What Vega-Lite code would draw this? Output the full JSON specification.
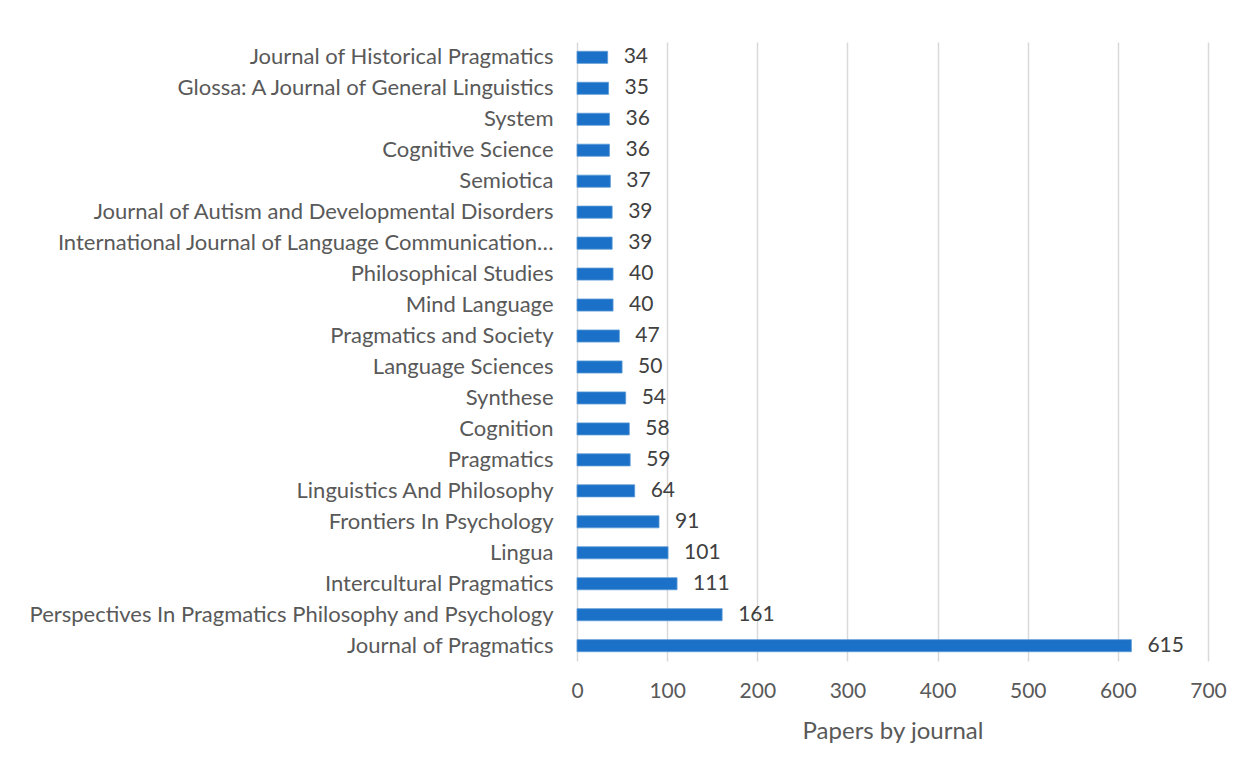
{
  "$schema": "https://vega.github.io/schema/vega-lite/v6.json",
  "autosize": "none",
  "width": 631,
  "height": 619,
  "padding": {"left": 577, "top": 42, "right": 47, "bottom": 111},
  "background": "white",
  "config": {
    "font": "Lato",
    "view": {"stroke": null},
    "axis": {"labelColor": "#595959", "titleColor": "#595959", "labelFont": "Lato", "titleFont": "Lato"}
  },
  "data": {
    "values": [
      {"journal": "Journal of Historical Pragmatics", "papers": 34},
      {"journal": "Glossa: A Journal of General Linguistics", "papers": 35},
      {"journal": "System", "papers": 36},
      {"journal": "Cognitive Science", "papers": 36},
      {"journal": "Semiotica", "papers": 37},
      {"journal": "Journal of Autism and Developmental Disorders", "papers": 39},
      {"journal": "International Journal of Language Communication…", "papers": 39},
      {"journal": "Philosophical Studies", "papers": 40},
      {"journal": "Mind Language", "papers": 40},
      {"journal": "Pragmatics and Society", "papers": 47},
      {"journal": "Language Sciences", "papers": 50},
      {"journal": "Synthese", "papers": 54},
      {"journal": "Cognition", "papers": 58},
      {"journal": "Pragmatics", "papers": 59},
      {"journal": "Linguistics And Philosophy", "papers": 64},
      {"journal": "Frontiers In Psychology", "papers": 91},
      {"journal": "Lingua", "papers": 101},
      {"journal": "Intercultural Pragmatics", "papers": 111},
      {"journal": "Perspectives In Pragmatics Philosophy and Psychology", "papers": 161},
      {"journal": "Journal of Pragmatics", "papers": 615}
    ]
  },
  "encoding": {
    "y": {
      "field": "journal",
      "type": "nominal",
      "sort": null,
      "scale": {"paddingInner": 0.61, "paddingOuter": 0.3},
      "axis": {"title": null, "domain": false, "ticks": false, "labelPadding": 24, "labelFontSize": 22, "labelLimit": 0}
    },
    "x": {
      "field": "papers",
      "type": "quantitative",
      "scale": {"domain": [0, 700], "nice": false},
      "axis": {
        "title": "Papers by journal",
        "values": [0, 100, 200, 300, 400, 500, 600, 700],
        "domain": false,
        "ticks": false,
        "grid": true,
        "gridColor": "#D9D9D9",
        "gridWidth": 1.5,
        "labelFontSize": 21,
        "labelPadding": 19,
        "labelFlush": false,
        "labelOverlap": false,
        "titleFontSize": 24,
        "titleFontWeight": "normal",
        "titlePadding": 18
      }
    }
  },
  "layer": [
    {"mark": {"type": "bar", "color": "#1B70C7", "stroke": "#5B9BD5", "strokeWidth": 0.8}},
    {"mark": {"type": "text", "align": "left", "baseline": "middle", "dx": 16, "fontSize": 21, "color": "#404040"}, "encoding": {"text": {"field": "papers", "type": "quantitative"}}}
  ]
}
